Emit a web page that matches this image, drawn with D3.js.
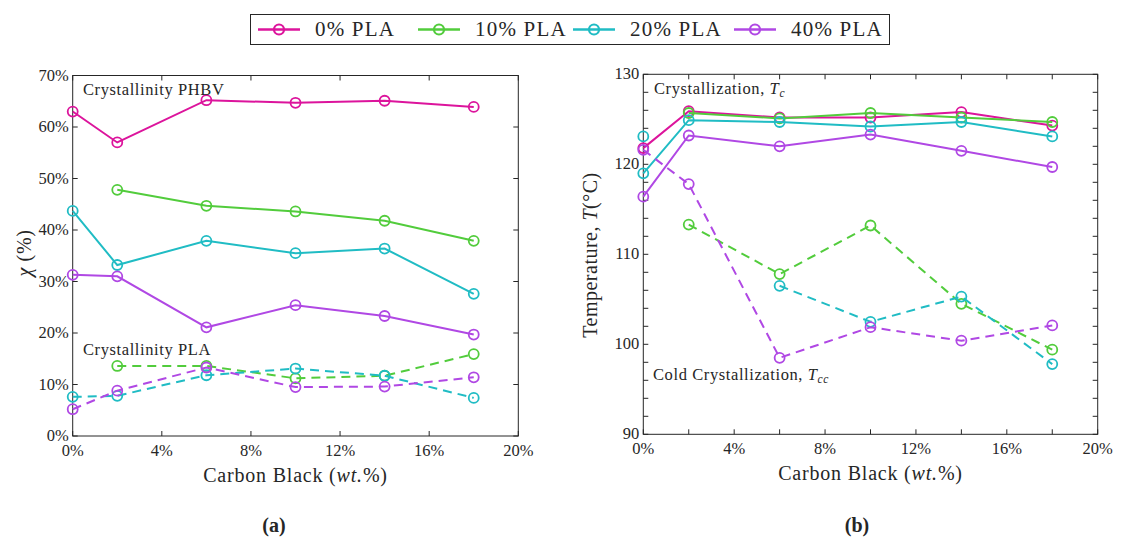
<!DOCTYPE html>
<html>
<head>
<meta charset="utf-8">
<script src="https://cdn.jsdelivr.net/npm/d3@7"></script>
<style>
  html, body { margin: 0; padding: 0; background: #fff; }
  svg { display: block; }
  text { font-family: "Liberation Serif", "Times New Roman", serif; fill: #262626; }
</style>
</head>
<body>
<svg id="chart" width="1123" height="541"></svg>
<script>
// Carbon black loading (wt.%) for every sample
const carbonBlack = [0, 2, 6, 10, 14, 18];

// Series definitions
const seriesNames = ["0% PLA", "10% PLA", "20% PLA", "40% PLA"];
const seriesColors = ["#dc149c", "#52cc3c", "#20bcc4", "#b048e4"];

// (a) Crystallinity of PHBV (%), null = not measured
const phbv0  = [63.0, 57.0, 65.2, 64.7, 65.1, 63.9];
const phbv10 = [null, 47.8, 44.7, 43.6, 41.8, 37.9];
const phbv20 = [43.7, 33.2, 37.9, 35.5, 36.4, 27.6];
const phbv40 = [31.3, 31.0, 21.1, 25.4, 23.3, 19.7];

// (a) Crystallinity of PLA (%)
const pla10 = [null, 13.6, 13.6, 11.2, 11.7, 15.9];
const pla20 = [7.6, 7.8, 11.8, 13.1, 11.7, 7.4];
const pla40 = [5.2, 8.8, 13.3, 9.5, 9.6, 11.4];

// (b) Crystallization temperature Tc (°C)
const tc0  = [121.8, 125.9, 125.2, 125.2, 125.8, 124.3];
const tc10 = [null, 125.7, 125.1, 125.7, 125.2, 124.7];
const tc20 = [119.0, 124.9, 124.7, 124.2, 124.7, 123.1];
const tc40 = [116.4, 123.2, 122.0, 123.3, 121.5, 119.7];

// (b) Cold crystallization temperature Tcc (°C)
const tcc10 = [null, 113.3, 107.8, 113.2, 104.5, 99.4];
const tcc20 = [123.1, null, 106.5, 102.5, 105.3, 97.8];
const tcc40 = [121.6, 117.8, 98.5, 101.9, 100.4, 102.1];

// Axis ticks
const xTicks = [0, 4, 8, 12, 16, 20];
const xMinorTicks = [0, 2, 4, 6, 8, 10, 12, 14, 16, 18, 20];
const yTicksA = [0, 10, 20, 30, 40, 50, 60, 70];
const yTicksB = [90, 100, 110, 120, 130];
const yMinorTicksB = d3.range(90, 131, 2);

const svg = d3.select("#chart");
const axisColor = "#262626";

function panel(opts) {
  const g = svg.append("g");
  const x = d3.scaleLinear().domain([0, 20]).range([opts.left, opts.right]);
  const y = d3.scaleLinear().domain(opts.yDomain).range([opts.bottom, opts.top]);
  const tickLen = 5;

  // frame
  g.append("rect")
    .attr("x", opts.left).attr("y", opts.top)
    .attr("width", opts.right - opts.left).attr("height", opts.bottom - opts.top)
    .attr("fill", "none").attr("stroke", axisColor).attr("stroke-width", 1);

  // inward ticks on all four sides
  const xt = opts.xMinor || xTicks;
  const yt = opts.yMinor || opts.yTicks;
  xt.forEach(v => {
    g.append("line").attr("x1", x(v)).attr("x2", x(v)).attr("y1", opts.bottom).attr("y2", opts.bottom - tickLen)
      .attr("stroke", axisColor);
    g.append("line").attr("x1", x(v)).attr("x2", x(v)).attr("y1", opts.top).attr("y2", opts.top + tickLen)
      .attr("stroke", axisColor);
  });
  yt.forEach(v => {
    g.append("line").attr("x1", opts.left).attr("x2", opts.left + tickLen).attr("y1", y(v)).attr("y2", y(v))
      .attr("stroke", axisColor);
    g.append("line").attr("x1", opts.right).attr("x2", opts.right - tickLen).attr("y1", y(v)).attr("y2", y(v))
      .attr("stroke", axisColor);
  });

  // tick labels
  xTicks.forEach(v => {
    g.append("text").attr("x", x(v)).attr("y", opts.bottom + 20)
      .attr("text-anchor", "middle").attr("font-size", 16.5).text(v + "%");
  });
  opts.yTicks.forEach(v => {
    g.append("text").attr("x", opts.left - 4).attr("y", y(v) + 5)
      .attr("text-anchor", "end").attr("font-size", 16.5).text(opts.yFormat(v));
  });

  // x-axis title
  const xl = g.append("text").attr("x", (opts.left + opts.right) / 2).attr("y", opts.bottom + 46)
    .attr("text-anchor", "middle").attr("font-size", 20).attr("letter-spacing", 0.8);
  xl.append("tspan").text("Carbon Black (");
  xl.append("tspan").attr("font-style", "italic").text("wt.");
  xl.append("tspan").text("%)");

  return { g, x, y };
}

function drawSeries(p, values, color, dashed) {
  const pts = carbonBlack.map((c, i) => ({ c, v: values[i] }));
  const line = d3.line().defined(d => d.v != null).x(d => p.x(d.c)).y(d => p.y(d.v));
  p.g.append("path").datum(pts)
    .attr("d", line).attr("fill", "none").attr("stroke", color)
    .attr("stroke-width", 2).attr("stroke-dasharray", dashed ? "9,6" : null);
  p.g.selectAll(null).data(pts.filter(d => d.v != null)).enter().append("circle")
    .attr("cx", d => p.x(d.c)).attr("cy", d => p.y(d.v)).attr("r", 5)
    .attr("fill", "none").attr("stroke", color).attr("stroke-width", 1.8);
}

// ---------- (a) crystallinity ----------
const pa = panel({
  left: 72.7, right: 518.3, top: 75.5, bottom: 436,
  yDomain: [0, 70], yTicks: yTicksA, yFormat: v => v + "%"
});
[phbv0, phbv10, phbv20, phbv40].forEach((s, i) => drawSeries(pa, s, seriesColors[i], false));
[pla10, pla20, pla40].forEach((s, i) => drawSeries(pa, s, seriesColors[i + 1], true));

pa.g.append("text").attr("x", 83).attr("y", 95).attr("font-size", 16.5).attr("letter-spacing", 0.6)
  .text("Crystallinity PHBV");
pa.g.append("text").attr("x", 83).attr("y", 355).attr("font-size", 16.5).attr("letter-spacing", 0.6)
  .text("Crystallinity PLA");

const yla = pa.g.append("text").attr("transform", "translate(31,253) rotate(-90)")
  .attr("text-anchor", "middle").attr("font-size", 20).attr("letter-spacing", 0.6);
yla.append("tspan").attr("font-style", "italic").text("χ");
yla.append("tspan").text(" (%)");

// ---------- (b) temperatures ----------
const pb = panel({
  left: 643.3, right: 1097.7, top: 74.3, bottom: 434.3,
  yDomain: [90, 130], yTicks: yTicksB, yMinor: yMinorTicksB, xMinor: xMinorTicks,
  yFormat: v => String(v)
});
[tc0, tc10, tc20, tc40].forEach((s, i) => drawSeries(pb, s, seriesColors[i], false));
[tcc10, tcc20, tcc40].forEach((s, i) => drawSeries(pb, s, seriesColors[i + 1], true));

const tcl = pb.g.append("text").attr("x", 654).attr("y", 94).attr("font-size", 16.5).attr("letter-spacing", 0.6);
tcl.append("tspan").text("Crystallization, ");
tcl.append("tspan").attr("font-style", "italic").text("T");
tcl.append("tspan").attr("font-style", "italic").attr("font-size", 11.5).attr("dy", 3).text("c");

const tccl = pb.g.append("text").attr("x", 653).attr("y", 380).attr("font-size", 16.5).attr("letter-spacing", 0.6);
tccl.append("tspan").text("Cold Crystallization, ");
tccl.append("tspan").attr("font-style", "italic").text("T");
tccl.append("tspan").attr("font-style", "italic").attr("font-size", 11.5).attr("dy", 3).text("cc");

const ylb = pb.g.append("text").attr("transform", "translate(597,255) rotate(-90)")
  .attr("text-anchor", "middle").attr("font-size", 20).attr("letter-spacing", 0.5);
ylb.append("tspan").text("Temperature, ");
ylb.append("tspan").attr("font-style", "italic").text("T");
ylb.append("tspan").text("(°C)");

// ---------- legend ----------
const lg = svg.append("g");
lg.append("rect").attr("x", 250.5).attr("y", 14.5).attr("width", 639).attr("height", 30)
  .attr("fill", "#fff").attr("stroke", axisColor).attr("stroke-width", 1);
const legendX = [258, 418, 573, 734];
seriesNames.forEach((name, i) => {
  const x0 = legendX[i];
  lg.append("line").attr("x1", x0).attr("x2", x0 + 42).attr("y1", 29.5).attr("y2", 29.5)
    .attr("stroke", seriesColors[i]).attr("stroke-width", 2.5);
  lg.append("circle").attr("cx", x0 + 21).attr("cy", 29.5).attr("r", 5)
    .attr("fill", "none").attr("stroke", seriesColors[i]).attr("stroke-width", 2.2);
  lg.append("text").attr("x", x0 + 57).attr("y", 36).attr("font-size", 21).attr("letter-spacing", 1.2)
    .text(name);
});

// ---------- panel captions ----------
svg.append("text").attr("x", 274).attr("y", 532).attr("text-anchor", "middle")
  .attr("font-size", 20).attr("font-weight", "bold").text("(a)");
svg.append("text").attr("x", 857).attr("y", 532).attr("text-anchor", "middle")
  .attr("font-size", 20).attr("font-weight", "bold").text("(b)");
</script>
</body>
</html>
